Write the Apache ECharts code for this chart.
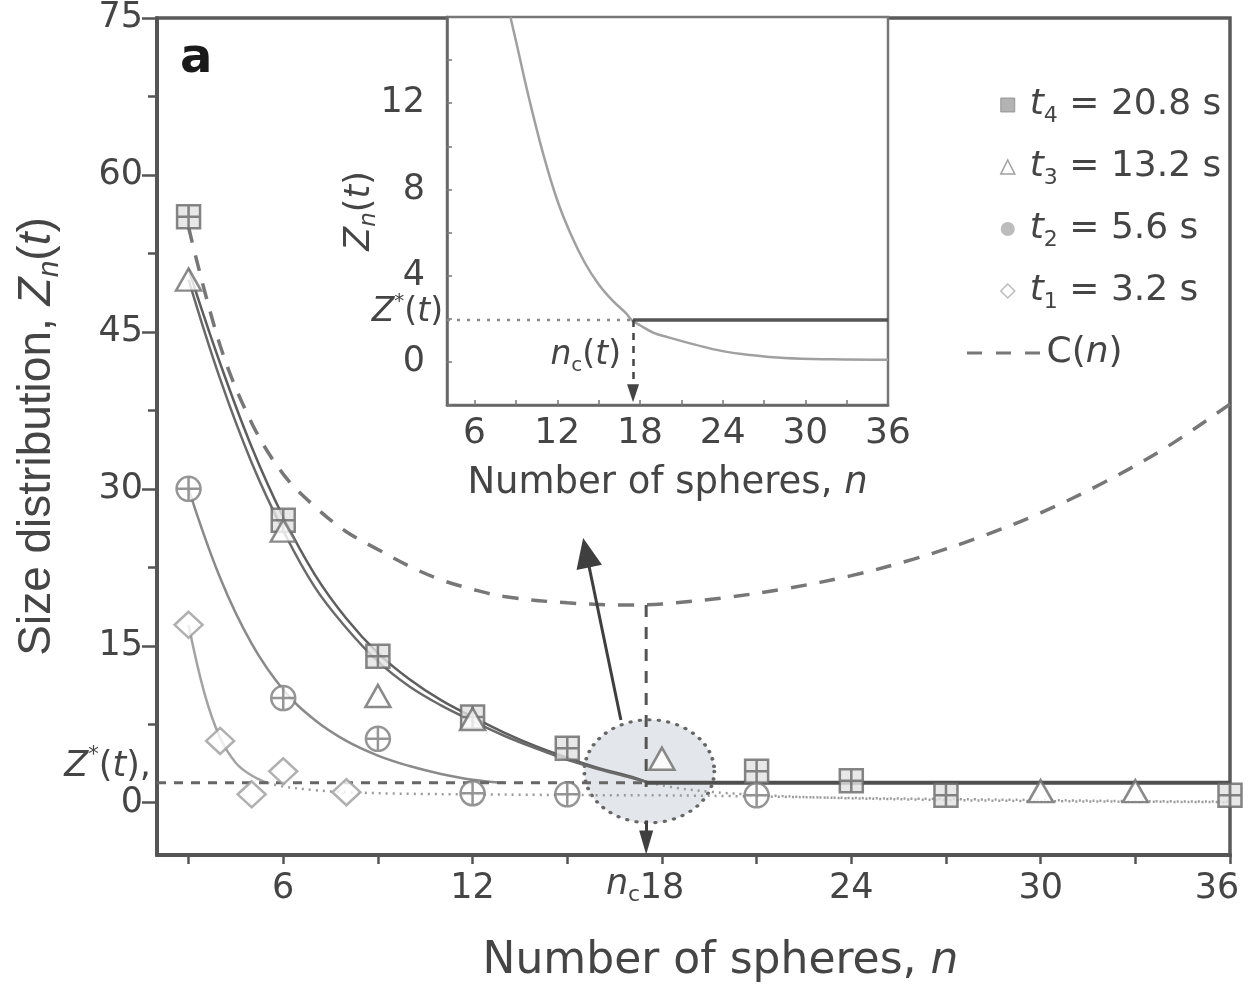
<!DOCTYPE html>
<html>
<head>
<meta charset="utf-8">
<script src="https://cdn.jsdelivr.net/npm/echarts@6/dist/echarts.min.js"></script>
<style>
  html, body { margin: 0; padding: 0; background: #fff; }
  #chart { width: 1248px; height: 987px; }
</style>
</head>
<body>
<div id="chart"></div>
<script>
// ---- measured points: n = number of spheres, z = Z_n(t) ----
const nT4 = [3, 6, 9, 12, 15, 21, 24, 27, 36];
const zT4 = [56, 27, 14, 8.2, 5.2, 3.0, 2.1, 0.7, 0.7];
const nT3 = [3, 6, 9, 12, 18, 30, 33];
const zT3 = [50, 26, 10.2, 8, 4.2, 1.1, 1.1];
const nT2 = [3, 6, 9, 12, 15, 21];
const zT2 = [30, 10, 6.1, 0.9, 0.8, 0.7];
const nT1 = [3, 4, 5, 6, 8];
const zT1 = [17, 5.9, 0.8, 3.0, 1.0];

// ---- fitted curves above Z*(t) ----
const fitN = [3, 4, 5, 6, 7, 8, 9, 10, 11, 12, 13, 14, 15, 16, 17, 17.6];
const fitT4 = [51, 42, 34, 27.3, 21.8, 17.6, 14.3, 11.8, 9.8, 8.2, 6.7, 5.4, 4.3, 3.3, 2.5, 1.9];
const fitT3 = [50, 40.5, 32.5, 26, 20.6, 16.7, 13.5, 11.1, 9.3, 7.8, 6.4, 5.2, 4.1, 3.2, 2.4, 1.9];
const fitN2 = [3, 4, 5, 6, 7, 8, 9, 10, 11, 12, 13];
const fitT2 = [30, 21.5, 15.2, 10.8, 7.9, 5.9, 4.5, 3.5, 2.75, 2.2, 1.9];
const fitN1 = [3, 3.5, 4, 4.5, 5, 5.5];
const fitT1 = [17, 10.5, 6.2, 3.8, 2.6, 1.9];

// ---- continuation of the fits below Z*(t) ----
const tailAN = [5.5, 6, 7, 8, 10, 12, 14, 16, 18, 21, 24, 27, 30, 33, 36];
const tailAZ = [1.9, 1.55, 1.2, 1.0, 0.85, 0.8, 0.75, 0.72, 0.7, 0.6, 0.45, 0.35, 0.25, 0.15, 0.1];
const tailBN = [17.6, 18.5, 19.5, 21, 23, 26, 30, 36];
const tailBZ = [1.9, 1.4, 1.05, 0.75, 0.5, 0.3, 0.15, 0.05];

// ---- C(n) ----
const cN = [3, 4, 5, 6, 7, 8, 9, 10, 11, 12, 13, 15, 17, 18, 20, 22, 24, 26, 28, 30, 32, 34, 36];
const cZ = [55, 43.7, 36.3, 31.4, 28.3, 25.9, 24.2, 22.6, 21.3, 20.4, 19.7, 19.1, 18.9, 19.0, 19.6, 20.5, 21.7, 23.3, 25.3, 27.7, 30.6, 34.0, 38.1];

// ---- critical values ----
const zStar = 1.9;
const nC = 17.5;
const cMin = 18.9;

// ---- inset curve ----
const insN = [8.6, 9, 10, 11, 12, 13, 14, 15, 16, 17, 17.4, 18, 19, 20, 22, 24, 26, 28.5, 32, 36];
const insZ = [16, 14.9, 12.1, 9.6, 7.5, 5.9, 4.6, 3.6, 2.85, 2.25, 1.94, 1.7, 1.35, 1.15, 0.8, 0.5, 0.32, 0.18, 0.12, 0.1];
const insZStar = 1.94;
const insNc = 17.5;

// ---- axis ticks and labels ----
const tickX = [3, 6, 9, 12, 15, 18, 21, 24, 27, 30, 33, 36];
const labelX = [6, 12, 18, 24, 30, 36];
const tickY = [0, 15, 30, 45, 60, 75];
const minorY = [7.5, 22.5, 37.5, 52.5, 67.5];
const insTickX = [6, 9, 12, 15, 18, 21, 24, 27, 30, 33, 36];
const insLabelX = [6, 12, 18, 24, 30, 36];
const insLabelY = [0, 4, 8, 12];

// ---- legend ----
const seriesKeys = ['t4', 't3', 't2', 't1'];
const subs = ['4', '3', '2', '1'];
const times = ['20.8', '13.2', '5.6', '3.2'];

const zip = (a, b) => a.map((v, i) => [v, b[i]]);

const FONT = 'DejaVu Sans';
const SANS = 'Liberation Sans';
const TXT = '#454545';
const AXIS = '#555';

function richSet(size, family) {
  const lh = Math.round(size * 1.22);
  return {
    n: { fontFamily: family, fontSize: size, color: TXT, lineHeight: lh },
    i: { fontFamily: family, fontSize: size, fontStyle: 'italic', color: TXT, lineHeight: lh },
    ti: { fontFamily: family, fontSize: size, fontStyle: 'italic', color: TXT, lineHeight: lh, padding: [0, 0, 0, 10] },
    sub: { fontFamily: family, fontSize: Math.round(size * 0.62), color: TXT, lineHeight: Math.round(size * 0.66), verticalAlign: 'bottom' },
    subi: { fontFamily: family, fontSize: Math.round(size * 0.66), fontStyle: 'italic', color: TXT, lineHeight: Math.round(size * 0.66), verticalAlign: 'bottom' },
    sup: { fontFamily: family, fontSize: Math.round(size * 0.6), color: TXT, lineHeight: Math.round(size * 0.7), verticalAlign: 'top' },
    last: { fontFamily: family, fontSize: size, color: TXT, padding: [0, 26, 0, 0] }
  };
}

// symbols: square with cross, circle with cross, dashed legend stroke
const squareCross = 'path://M0,0H20V20H0Z M10,0V20 M0,10H20';
const circleCross = 'path://M10,0A10,10,0,1,1,10,20A10,10,0,1,1,10,0Z M10,0V20 M0,10H20';
const dashIcon = 'path://M0,0H15V3H0Z M29,0H44V3H29Z M58,0H73V3H58Z';

const lineBase = { type: 'line', showSymbol: false, symbol: 'none', silent: true, animation: false,
  xAxisIndex: 0, yAxisIndex: 0 };

const option = {
  animation: false,
  backgroundColor: '#fff',
  grid: [
    { left: 157, top: 18, right: 18, bottom: 132, show: true, borderColor: '#5a5a5a', borderWidth: 3.5,
      backgroundColor: '#fff', containLabel: false, outerBoundsMode: 'none' },
    { left: 447, top: 17, width: 441, height: 388, show: true, borderColor: '#777', borderWidth: 2.5,
      backgroundColor: '#fff', containLabel: false, outerBoundsMode: 'none' }
  ],
  xAxis: [
    {
      gridIndex: 0, type: 'value', min: 2, max: 36,
      axisLine: { show: true, onZero: false, lineStyle: { color: AXIS, width: 4 } },
      axisTick: { show: true, inside: false, length: 9, customValues: tickX, lineStyle: { color: AXIS, width: 2.5 } },
      axisLabel: { customValues: labelX, margin: 16, fontFamily: FONT, fontSize: 35, color: TXT,
        formatter: v => (v === 36 ? '{last|36}' : String(v)), rich: richSet(35, FONT) },
      splitLine: { show: false },
      name: '{n|Number of spheres, }{i|n}', nameLocation: 'middle', nameGap: 80, nameMoveOverlap: false,
      nameTextStyle: { fontFamily: FONT, fontSize: 44, color: TXT, rich: richSet(44, FONT), padding: [0, 0, 0, 54] }
    },
    {
      gridIndex: 1, type: 'value', min: 4, max: 36,
      axisLine: { show: true, onZero: false, lineStyle: { color: '#666', width: 2.5 } },
      axisTick: { show: true, inside: true, length: 5, customValues: insTickX, lineStyle: { color: '#777', width: 1.5 } },
      axisLabel: { customValues: insLabelX, margin: 11, fontFamily: FONT, fontSize: 36, color: TXT },
      splitLine: { show: false },
      name: '{n|Number of spheres, }{i|n}', nameLocation: 'middle', nameGap: 56, nameMoveOverlap: false,
      nameTextStyle: { fontFamily: FONT, fontSize: 37, color: TXT, rich: richSet(37, FONT) }
    }
  ],
  yAxis: [
    {
      gridIndex: 0, type: 'value', min: -5, max: 75, position: 'left',
      axisLine: { show: true, onZero: false, lineStyle: { color: AXIS, width: 4 } },
      axisTick: { show: true, inside: false, length: 15, customValues: tickY, lineStyle: { color: AXIS, width: 2.5 } },
      axisLabel: { customValues: tickY, margin: 14, fontFamily: FONT, fontSize: 35, color: TXT },
      splitLine: { show: false },
      name: '{n|Size distribution, }{i|Z}{subi|n}{n|(}{i|t}{n|)}', nameLocation: 'middle', nameRotate: 90,
      nameGap: 92, nameMoveOverlap: false,
      nameTextStyle: { fontFamily: SANS, fontSize: 46, color: TXT, rich: richSet(46, SANS) }
    },
    {
      gridIndex: 0, type: 'value', min: -5, max: 75, position: 'left', offset: 0,
      axisLine: { show: false },
      axisTick: { show: true, inside: false, length: 9, customValues: minorY, lineStyle: { color: AXIS, width: 2.5 } },
      axisLabel: { show: false },
      splitLine: { show: false }
    },
    {
      gridIndex: 1, type: 'value', min: -2, max: 16, interval: 2, position: 'left',
      axisLine: { show: true, onZero: false, lineStyle: { color: '#666', width: 2.5 } },
      axisTick: { show: true, inside: true, length: 5, lineStyle: { color: '#777', width: 1.5 } },
      axisLabel: { customValues: insLabelY, margin: 22, fontFamily: FONT, fontSize: 35, color: TXT },
      splitLine: { show: false },
      name: '{i|Z}{subi|n}{n|(}{i|t}{n|)}', nameLocation: 'middle', nameRotate: 90, nameGap: 66, nameMoveOverlap: false,
      nameTextStyle: { fontFamily: FONT, fontSize: 35, color: TXT, rich: richSet(35, FONT) }
    }
  ],
  legend: [
    {
      orient: 'vertical', left: 1000, top: 87, itemGap: 22, itemWidth: 14, itemHeight: 14,
      selectedMode: false, padding: 0,
      data: [
        { name: 't4', icon: 'rect', itemStyle: { color: '#a0a0a0', borderColor: '#8a8a8a', borderWidth: 1 } },
        { name: 't3', icon: 'triangle', itemStyle: { color: '#fff', borderColor: '#888', borderWidth: 1.5 } },
        { name: 't2', icon: 'circle', itemStyle: { color: '#ababab', borderWidth: 0 } },
        { name: 't1', icon: 'diamond', itemStyle: { color: '#fff', borderColor: '#aaa', borderWidth: 1.5 } }
      ],
      formatter: name => {
        const k = seriesKeys.indexOf(name);
        return '{ti|t}{sub|' + subs[k] + '}{n| = ' + times[k] + ' s}';
      },
      textStyle: { fontFamily: FONT, fontSize: 36, color: TXT, rich: richSet(36, FONT) }
    },
    {
      orient: 'vertical', left: 967, top: 335, itemWidth: 76, itemHeight: 3, selectedMode: false, padding: 0,
      data: [{ name: 'C(n)', icon: dashIcon, itemStyle: { color: '#777', borderWidth: 0 } }],
      formatter: () => '{n|C(}{i|n}{n|)}',
      textStyle: { fontFamily: FONT, fontSize: 36, color: TXT, rich: richSet(36, FONT) }
    }
  ],
  series: [
    // highlighted region round n_c
    {
      type: 'scatter', name: 'region', silent: true, xAxisIndex: 0, yAxisIndex: 0, z: 1,
      data: [[17.6, 3.0]], symbol: 'circle', symbolSize: [130, 103],
      itemStyle: { color: 'rgba(205,210,217,0.7)', borderColor: '#444', borderWidth: 3.5, borderType: [0.5, 8], borderCap: 'round' }
    },
    Object.assign({}, lineBase, { name: 'C(n)', data: zip(cN, cZ), smooth: 0.35, z: 2,
      lineStyle: { color: '#777', width: 3.5, type: [16, 13] }, itemStyle: { color: '#777' } }),
    Object.assign({}, lineBase, { name: 'fit-t4', data: zip(fitN, fitT4), smooth: 0.4, z: 3,
      lineStyle: { color: '#5e5e5e', width: 2.5 } }),
    Object.assign({}, lineBase, { name: 'fit-t3', data: zip(fitN, fitT3), smooth: 0.4, z: 3,
      lineStyle: { color: '#6a6a6a', width: 2.5 } }),
    Object.assign({}, lineBase, { name: 'fit-t2', data: zip(fitN2, fitT2), smooth: 0.4, z: 3,
      lineStyle: { color: '#8a8a8a', width: 2.5 } }),
    Object.assign({}, lineBase, { name: 'fit-t1', data: zip(fitN1, fitT1), smooth: 0.4, z: 3,
      lineStyle: { color: '#a3a3a3', width: 2.5 } }),
    Object.assign({}, lineBase, { name: 'tail-a', data: zip(tailAN, tailAZ), smooth: 0.4, z: 2,
      lineStyle: { color: '#9a9a9a', width: 2.5, type: [2, 5] } }),
    Object.assign({}, lineBase, { name: 'tail-b', data: zip(tailBN, tailBZ), smooth: 0.4, z: 2,
      lineStyle: { color: '#9a9a9a', width: 2.5, type: [2, 5] } }),
    Object.assign({}, lineBase, { name: 'zstar', data: [[2, zStar], [nC, zStar]], z: 3,
      lineStyle: { color: '#666', width: 3, type: [9, 8] } }),
    Object.assign({}, lineBase, { name: 'plateau', data: [[nC, zStar], [36, zStar]], z: 4,
      lineStyle: { color: '#4f4f4f', width: 4 } }),
    Object.assign({}, lineBase, { name: 'nc-drop', data: [[nC, cMin], [nC, 1.5]], z: 3,
      lineStyle: { color: '#555', width: 3, type: [12, 10] },
      markLine: {
        silent: true, animation: false, label: { show: false },
        lineStyle: { color: '#3f3f3f', width: 3, type: 'solid' },
        data: [
          [ { coord: [16.7, 7.9], symbol: 'none' }, { coord: [15.6, 23.9], symbol: 'triangle', symbolSize: [26, 30] } ],
          [ { coord: [nC, -1.7], symbol: 'none' }, { coord: [nC, -3.8], symbol: 'triangle', symbolSize: [14, 24] } ]
        ]
      } }),
    {
      type: 'scatter', name: 't4', xAxisIndex: 0, yAxisIndex: 0, z: 6, silent: true,
      data: zip(nT4, zT4), symbol: squareCross, symbolSize: 23,
      itemStyle: { color: '#e2e2e2', borderColor: '#666', borderWidth: 2.5 }
    },
    {
      type: 'scatter', name: 't3', xAxisIndex: 0, yAxisIndex: 0, z: 6, silent: true,
      data: zip(nT3, zT3), symbol: 'triangle', symbolSize: [25, 22],
      itemStyle: { color: '#fff', borderColor: '#6d6d6d', borderWidth: 2.5 }
    },
    {
      type: 'scatter', name: 't2', xAxisIndex: 0, yAxisIndex: 0, z: 6, silent: true,
      data: zip(nT2, zT2), symbol: circleCross, symbolSize: 24,
      itemStyle: { color: '#fff', borderColor: '#7a7a7a', borderWidth: 2.5 }
    },
    {
      type: 'scatter', name: 't1', xAxisIndex: 0, yAxisIndex: 0, z: 6, silent: true,
      data: zip(nT1, zT1), symbol: 'diamond', symbolSize: [28, 26],
      itemStyle: { color: '#fff', borderColor: '#9c9c9c', borderWidth: 2.5 }
    },
    // inset
    Object.assign({}, lineBase, { name: 'inset-curve', xAxisIndex: 1, yAxisIndex: 2, data: zip(insN, insZ), smooth: 0.4, z: 3,
      lineStyle: { color: '#a0a0a0', width: 2.5 } }),
    Object.assign({}, lineBase, { name: 'inset-zstar', xAxisIndex: 1, yAxisIndex: 2, data: [[4, insZStar], [insNc, insZStar]], z: 3,
      lineStyle: { color: '#888', width: 2.5, type: [3, 7] } }),
    Object.assign({}, lineBase, { name: 'inset-plateau', xAxisIndex: 1, yAxisIndex: 2, data: [[insNc, insZStar], [36, insZStar]], z: 4,
      lineStyle: { color: '#555', width: 3.5 },
      markLine: {
        silent: true, animation: false, label: { show: false },
        lineStyle: { color: '#444', width: 2.5, type: [7, 6] },
        data: [
          [ { coord: [insNc, insZStar], symbol: 'none' }, { coord: [insNc, -1.45], symbol: 'triangle', symbolSize: [12, 18] } ]
        ]
      } })
  ]
};

const chart = echarts.init(document.getElementById('chart'), null, { renderer: 'canvas' });
chart.setOption(option);

// text annotations anchored to axis positions
function txt(text, x, y, size, align) {
  return {
    type: 'text', x: x, y: y, z: 20, silent: true,
    style: {
      text: text, rich: richSet(size, FONT), fill: TXT,
      fontFamily: FONT, fontSize: size, align: align, verticalAlign: 'middle'
    }
  };
}

const pStar = chart.convertToPixel({ gridIndex: 0 }, [2, zStar]);
const pNc = chart.convertToPixel({ gridIndex: 0 }, [nC, -5]);
const pInsStar = chart.convertToPixel({ gridIndex: 1 }, [4, insZStar]);
const pInsNc = chart.convertToPixel({ gridIndex: 1 }, [insNc, 0.3]);

chart.setOption({
  graphic: [
    {
      type: 'text', left: 180, top: 36, z: 20, silent: true,
      style: { text: 'a', fontFamily: FONT, fontWeight: 'bold', fontSize: 48, fill: '#1a1a1a' }
    },
    txt('{i|Z}{sup|*}{n|(}{i|t}{n|),}', pStar[0] - 6, pStar[1] - 16, 35, 'right'),
    txt('{i|n}{sub|c}', pNc[0] - 6, pNc[1] + 30, 35, 'right'),
    txt('{i|Z}{sup|*}{n|(}{i|t}{n|)}', pInsStar[0] - 4, pInsStar[1] - 8, 33, 'right'),
    txt('{i|n}{sub|c}{n|(}{i|t}{n|)}', pInsNc[0] - 12, pInsNc[1], 33, 'right')
  ]
});
</script>
</body>
</html>
